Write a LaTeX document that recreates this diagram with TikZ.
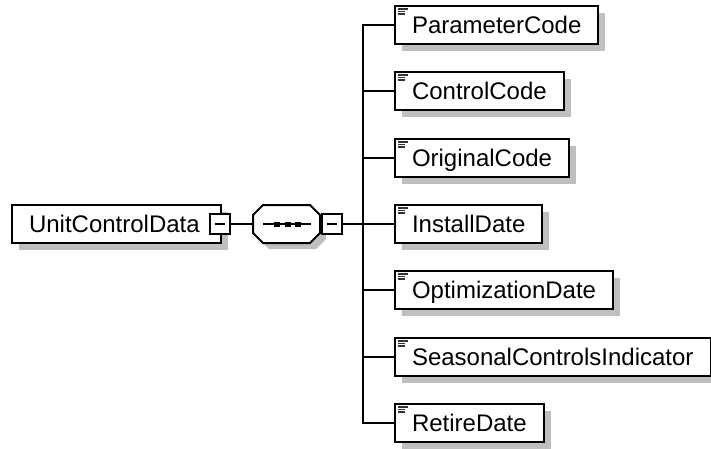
\documentclass[tikz,border=0pt]{standalone}
\usepackage{fontspec}
\setmainfont{Liberation Sans}
\usetikzlibrary{shadows}

\begin{document}
\begin{tikzpicture}[x=1pt,y=-1pt,line width=2pt]
        \tikzset{element/.style = {draw,fill=white,anchor=west,minimum height=38pt,inner xsep=17pt,text height=17pt,text depth=0pt,font=\fontsize{24pt}{28pt}\selectfont,drop shadow={shadow xshift=7pt,shadow yshift=-7pt,fill=black!25,opacity=1}}}
        \tikzset{leaf/.style = {element,path picture={
            \draw[line width=1.3pt,black!80] ([shift={(3pt,-3pt)}]path picture bounding box.north west) -- ++(10pt,0pt);
            \draw[line width=1.3pt,black!80] ([shift={(3pt,-5.5pt)}]path picture bounding box.north west) -- ++(7pt,0pt);
            \draw[line width=1.3pt,black!80] ([shift={(3pt,-8pt)}]path picture bounding box.north west) -- ++(7pt,0pt);}}}
        \tikzset{minus/.style = {draw,fill=white,minimum width=20pt,minimum height=20pt,inner sep=0pt,path picture={
            \draw ([xshift=5pt]path picture bounding box.west) -- ([xshift=-5pt]path picture bounding box.east);}}}
        \tikzset{octagon/.style = {draw,fill=white}}

        \useasboundingbox (0,0) rectangle (711,448);

        % parent element and the sequence compositor
        \node[element,minimum width=209pt,text width=175pt,align=left] (unit) at (11,224) {UnitControlData};
        \node[minus] (unitminus) at (220,224) {};
        \fill[black!25] (269,211) -- (316,211) -- (326,221) -- (326,239) -- (316,249) -- (269,249) -- (259,239) -- (259,221) -- cycle;
        \draw[octagon] (263,205) -- (310,205) -- (320,215) -- (320,233) -- (310,243) -- (263,243) -- (253,233) -- (253,215) -- cycle;
        \node[minimum width=67pt,minimum height=38pt,inner sep=0pt] (sequence) at (286.5,224) {};
        \draw (263,224) -- (311,224);
        \fill (274,222) rectangle (280,227);
        \fill (284.5,222) rectangle (290.5,227);
        \fill (295,222) rectangle (301,227);
        \node[minus] (seqminus) at (332,224) {};
        \coordinate (fork) at (363,224);

        % child elements
        \node[leaf] (parameter) at (394,25) {ParameterCode};
        \node[leaf] (control) at (394,91) {ControlCode};
        \node[leaf] (original) at (394,158) {OriginalCode};
        \node[leaf] (install) at (394,224) {InstallDate};
        \node[leaf] (optimization) at (394,290) {OptimizationDate};
        \node[leaf] (seasonal) at (394,357) {SeasonalControlsIndicator};
        \node[leaf] (retire) at (394,423) {RetireDate};

        \draw (unitminus.east) -- (sequence.west);
        \draw (sequence.east) -- (seqminus.west);
        \draw (seqminus.east) -- (fork);
        \draw (fork) |- (parameter.west);
        \draw (fork) |- (control.west);
        \draw (fork) |- (original.west);
        \draw (fork) |- (install.west);
        \draw (fork) |- (optimization.west);
        \draw (fork) |- (seasonal.west);
        \draw (fork) |- (retire.west);
    \end{tikzpicture}
\end{document}
